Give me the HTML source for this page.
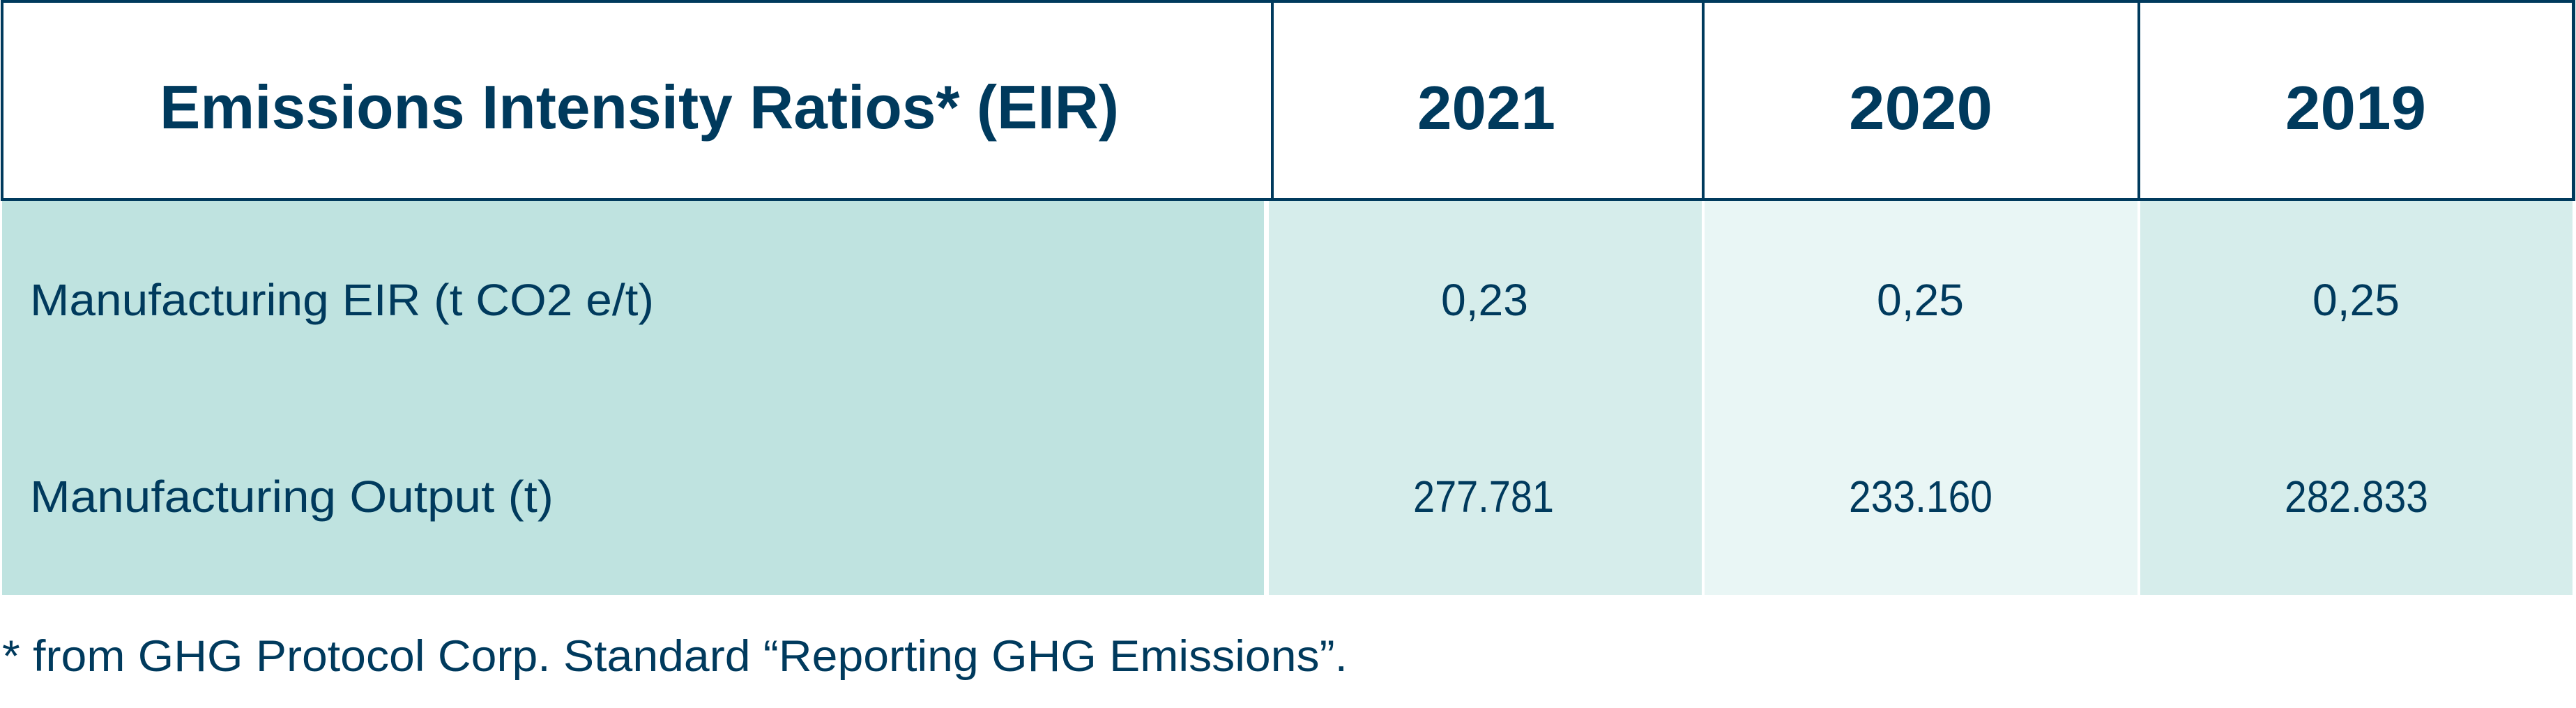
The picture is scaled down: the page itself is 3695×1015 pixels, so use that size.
<!DOCTYPE html>
<html><head><meta charset="utf-8"><style>
html,body{margin:0;padding:0;background:#fff;}
svg{display:block;}
text{font-family:"Liberation Sans",sans-serif;fill:#003a5d;}
.b{font-weight:bold;font-size:88px;}
.r{font-size:64px;}
</style></head><body>
<svg width="3695" height="1015" viewBox="0 0 3695 1015" xmlns="http://www.w3.org/2000/svg">
<rect x="0" y="0" width="3695" height="1015" fill="#fff"/>
<rect x="3" y="288" width="1810" height="565" fill="#bfe3e0"/>
<rect x="1820" y="288" width="621" height="565" fill="#d6edeb"/>
<rect x="2445" y="288" width="621" height="565" fill="#e9f6f5"/>
<rect x="3070" y="288" width="620" height="565" fill="#d6edeb"/>
<rect x="1" y="0" width="3693" height="4" fill="#003a5d"/>
<rect x="1" y="0" width="4" height="288" fill="#003a5d"/>
<rect x="3689" y="0" width="5" height="288" fill="#003a5d"/>
<rect x="1" y="284" width="3693" height="4" fill="#003a5d"/>
<rect x="1823" y="0" width="4" height="288" fill="#003a5d"/>
<rect x="2441" y="0" width="4" height="288" fill="#003a5d"/>
<rect x="3066" y="0" width="4" height="288" fill="#003a5d"/>
<text class="b" x="229" y="184" textLength="1376" lengthAdjust="spacingAndGlyphs">Emissions Intensity Ratios* (EIR)</text>
<text class="b" x="2033" y="185" textLength="198" lengthAdjust="spacingAndGlyphs">2021</text>
<text class="b" x="2652" y="185" textLength="206" lengthAdjust="spacingAndGlyphs">2020</text>
<text class="b" x="3278" y="185" textLength="202" lengthAdjust="spacingAndGlyphs">2019</text>
<text class="r" x="43" y="452" textLength="895" lengthAdjust="spacingAndGlyphs">Manufacturing EIR (t CO2 e/t)</text>
<text class="r" x="2067" y="452" textLength="125" lengthAdjust="spacingAndGlyphs">0,23</text>
<text class="r" x="2692" y="452" textLength="125" lengthAdjust="spacingAndGlyphs">0,25</text>
<text class="r" x="3317" y="452" textLength="125" lengthAdjust="spacingAndGlyphs">0,25</text>
<text class="r" x="43" y="734" textLength="751" lengthAdjust="spacingAndGlyphs">Manufacturing Output (t)</text>
<text class="r" x="2027" y="734" textLength="202" lengthAdjust="spacingAndGlyphs">277.781</text>
<text class="r" x="2652" y="734" textLength="206" lengthAdjust="spacingAndGlyphs">233.160</text>
<text class="r" x="3277" y="734" textLength="206" lengthAdjust="spacingAndGlyphs">282.833</text>
<text x="3" y="962" style="font-size:63px" textLength="1930" lengthAdjust="spacingAndGlyphs">* from GHG Protocol Corp. Standard “Reporting GHG Emissions”.</text>
</svg>
</body></html>
